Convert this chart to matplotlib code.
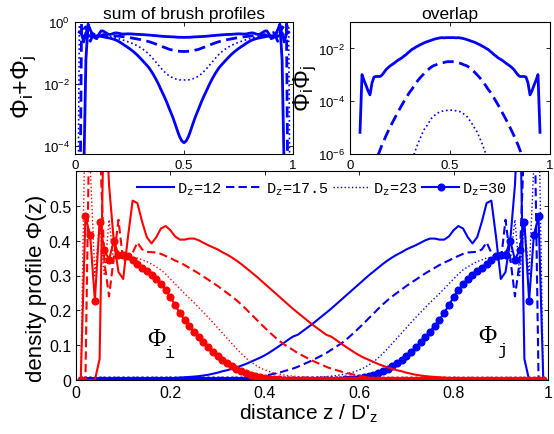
"""Brush density profiles: sum, overlap and single-brush profiles for four D_z."""

import matplotlib
matplotlib.use("Agg")
import matplotlib.pyplot as plt
import numpy as np
from matplotlib.lines import Line2D

plt.rcParams["font.family"] = ["Liberation Sans", "DejaVu Sans"]
plt.rcParams["mathtext.fontset"] = "custom"
plt.rcParams["mathtext.rm"] = "Liberation Sans"
plt.rcParams["mathtext.it"] = "Liberation Sans:italic"
plt.rcParams["mathtext.tt"] = "Liberation Mono"

# distance grid z / D'_z used for every profile
Z = np.linspace(0.01, 0.99, 99)

LABELS = ["12", "17.5", "23", "30"]

# density profile Phi_i(z) of brush i (red); brush j is its mirror image
PHI_I_12 = [
    0.0, 0.0, 0.0, 0.0, 0.06, 0.85, 0.56, 0.40, 0.31, 0.29,
    0.41, 0.515, 0.508, 0.455, 0.41, 0.392, 0.41, 0.435, 0.442, 0.43,
    0.412, 0.403, 0.403, 0.406, 0.406, 0.401, 0.394, 0.387, 0.381, 0.375,
    0.367, 0.36, 0.352, 0.343, 0.333, 0.322, 0.311, 0.30, 0.288, 0.276,
    0.264, 0.252, 0.24, 0.228, 0.216, 0.204, 0.193, 0.182, 0.171, 0.16,
    0.15, 0.14, 0.13, 0.125, 0.116, 0.106, 0.097, 0.088, 0.079, 0.071,
    0.064, 0.058, 0.052, 0.046, 0.041, 0.036, 0.032, 0.028, 0.025, 0.021,
    0.018, 0.015, 0.013, 0.011, 0.0098, 0.0088, 0.0078, 0.0068, 0.0059, 0.0050,
    0.0042, 0.0036, 0.0030, 0.0025, 0.0021, 0.0019, 0.0017, 0.0016, 0.0012, 0.0006,
    0.0008, 0.0010, 0.0011, 0.0012, 1.1e-4, 1e-5, 5e-6, 2e-6, 1e-6,
]
PHI_I_17 = [
    0.0, 0.0, 0.9, 0.62, 0.7, 0.34, 0.24, 0.35, 0.46, 0.34,
    0.35, 0.365, 0.395, 0.375, 0.368, 0.367, 0.366, 0.362, 0.356, 0.35,
    0.343, 0.337, 0.33, 0.322, 0.314, 0.306, 0.297, 0.288, 0.279, 0.27,
    0.26, 0.25, 0.24, 0.229, 0.217, 0.204, 0.19, 0.177, 0.163, 0.15,
    0.137, 0.125, 0.113, 0.103, 0.095, 0.086, 0.077, 0.07, 0.063, 0.056,
    0.05, 0.044, 0.038, 0.033, 0.029, 0.025, 0.021, 0.018, 0.015, 0.012,
    0.0095, 0.0075, 0.0058, 0.0045, 0.0035, 0.0027, 0.002, 0.0015, 0.0011, 8.5e-4,
    6.3e-4, 4.6e-4, 3.3e-4, 2.4e-4, 1.7e-4, 1.2e-4, 8.5e-5, 6e-5, 4.2e-5, 2.9e-5,
    2e-5, 1.35e-5, 9e-6, 6e-6, 3.8e-6, 2.4e-6, 1.5e-6, 9e-7, 5.5e-7, 3.3e-7,
    2e-7, 1.2e-7, 7e-8, 4e-8, 2e-8, 1e-8, 5e-9, 2e-9, 1e-9,
]
PHI_I_23 = [
    0.0, 0.8, 0.62, 0.3, 0.45, 0.3, 0.46, 0.34, 0.37, 0.355,
    0.35, 0.352, 0.35, 0.345, 0.34, 0.333, 0.325, 0.316, 0.304, 0.29,
    0.276, 0.262, 0.248, 0.235, 0.222, 0.208, 0.194, 0.18, 0.165, 0.15,
    0.135, 0.12, 0.105, 0.09, 0.076, 0.063, 0.052, 0.043, 0.035, 0.029,
    0.024, 0.02, 0.017, 0.0145, 0.0125, 0.011, 0.0097, 0.0085, 0.0076, 0.0068,
    0.006, 0.0052, 0.0045, 0.0038, 0.0032, 0.0025, 0.0019, 0.0014, 0.001, 6.2e-4,
    4e-4, 2.4e-4, 1.6e-4, 9e-5, 5e-5, 2.8e-5, 1.5e-5, 8e-6, 4e-6, 2e-6,
    1e-6, 5e-7, 2.5e-7, 1.2e-7, 6e-8, 3e-8, 2e-8, 1e-8, 1e-8, 1e-8,
    1e-8, 8e-9, 6e-9, 5e-9, 4e-9, 3e-9, 2e-9, 2e-9, 1e-9, 1e-9,
    1e-9, 1e-9, 1e-9, 1e-9, 1e-9, 1e-9, 1e-9, 1e-9, 1e-10,
]
PHI_I_30 = [
    0.0, 0.47, 0.415, 0.228, 0.454, 0.374, 0.345, 0.40, 0.36, 0.358,
    0.356, 0.345, 0.333, 0.322, 0.312, 0.302, 0.289, 0.275, 0.258, 0.238,
    0.215, 0.193, 0.173, 0.156, 0.139, 0.123, 0.108, 0.094, 0.08, 0.068,
    0.057, 0.048, 0.04, 0.033, 0.026, 0.02, 0.015, 0.011, 0.0078, 0.0055,
    0.0039, 0.0027, 0.0018, 0.0012, 8e-4, 5e-4, 3e-4, 1.8e-4, 1.1e-4, 6.5e-5,
    3.8e-5, 2.2e-5, 1.3e-5, 7.5e-6, 4.4e-6, 2.6e-6, 1.5e-6, 9e-7, 5e-7, 3e-7,
    2e-7, 1e-7, 1e-7, 1e-7, 1e-7, 1e-7, 1e-7, 1e-7, 1e-7, 1e-7,
    1e-7, 1e-7, 1e-7, 1e-7, 1e-7, 1e-7, 1e-7, 1e-7, 1e-7, 1e-7,
    1e-7, 1e-7, 1e-7, 1e-7, 1e-7, 1e-7, 1e-7, 1e-7, 1e-7, 1e-7,
    1e-7, 1e-7, 1e-7, 1e-7, 1e-7, 1e-7, 1e-7, 1e-7, 0.0,
]

PROFILES = [PHI_I_12, PHI_I_17, PHI_I_23, PHI_I_30]
STYLES = [
    dict(ls="-", lw=1.5),
    dict(ls=(0, (4, 2)), lw=1.5),
    dict(ls=":", lw=1.0),
    dict(ls="-", lw=1.5, marker="o", ms=4.8),
]
TOP_STYLES = [
    dict(ls="-", lw=2.0),
    dict(ls=(0, (4, 2)), lw=2.0),
    dict(ls=":", lw=1.2),
    dict(ls="-", lw=2.0),
]

BLUE = (0, 0, 1)
RED = (1, 0, 0)


def _positive(values):
    values = np.asarray(values, dtype=float)
    return np.where(values > 0, values, np.nan)


def _style_axes(ax, size):
    ax.tick_params(direction="in", top=True, right=True, labelsize=size,
                   length=3, width=0.6)
    ax.tick_params(which="minor", length=0)
    for spine in ax.spines.values():
        spine.set_linewidth(0.8)


fig = plt.figure(figsize=(5.54, 4.35), dpi=100)
W, H = 554.0, 435.0


def _axes(left, top, right, bottom):
    return fig.add_axes([left / W, 1 - bottom / H, (right - left) / W,
                         (bottom - top) / H])


ax_sum = _axes(75, 23, 293, 155)
ax_ovl = _axes(350, 23, 550, 155)
ax = _axes(76, 172, 548, 381)

for phi, style in zip(PROFILES, TOP_STYLES):
    phi_i = np.asarray(phi)
    phi_j = phi_i[::-1]
    ax_sum.plot(Z, _positive(phi_i + phi_j), color=BLUE, **style)
    ax_ovl.plot(Z, _positive(phi_i * phi_j), color=BLUE, **style)

ax_sum.set_yscale("log")
ax_sum.set_xlim(0, 1)
ax_sum.set_ylim(10 ** -4.25, 1)
ax_sum.set_xticks([0, 0.5, 1])
ax_sum.set_xticklabels(["0", "0.5", "1"])
ax_sum.set_yticks([1e-4, 1e-2, 1])
ax_sum.set_title("sum of brush profiles", fontsize=12.5, pad=3)
_style_axes(ax_sum, 9.5)

ax_ovl.set_yscale("log")
ax_ovl.set_xlim(0, 1)
ax_ovl.set_ylim(1e-6, 1e-1)
ax_ovl.set_xticks([0, 0.5, 1])
ax_ovl.set_xticklabels(["0", "0.5", "1"])
ax_ovl.set_yticks([1e-6, 1e-4, 1e-2])
ax_ovl.set_title("overlap", fontsize=12.5, pad=3)
_style_axes(ax_ovl, 9.5)

fig.text(24 / W, 1 - 87 / H, r"$\Phi_\mathrm{i}$+$\Phi_\mathrm{j}$",
         rotation=90, ha="center", va="center", fontsize=18)
fig.text(305 / W, 1 - 88 / H, r"$\Phi_\mathrm{i}\Phi_\mathrm{j}$",
         rotation=90, ha="center", va="center", fontsize=17)

# main panel: blue (brush j) first, red (brush i) on top
for phi, style in zip(PROFILES, STYLES):
    ax.plot(Z, np.asarray(phi)[::-1], color=BLUE, **style)
for phi, style in zip(PROFILES, STYLES):
    ax.plot(Z, phi, color=RED, **style)

ax.set_xlim(0, 1)
ax.set_ylim(0, 0.6)
ax.set_xticks([0, 0.2, 0.4, 0.6, 0.8, 1])
ax.set_xticklabels(["0", "0.2", "0.4", "0.6", "0.8", "1"])
ax.set_yticks([0, 0.1, 0.2, 0.3, 0.4, 0.5])
ax.set_yticklabels(["0", "0.1", "0.2", "0.3", "0.4", "0.5"])
_style_axes(ax, 11.5)

ax.text(0.171, 0.118, "\u03a6", family="Liberation Serif", fontsize=18,
        ha="center", va="center")
ax.text(0.199, 0.078, "i", family="Liberation Mono", fontsize=12,
        ha="center", va="center")
ax.text(0.872, 0.127, "\u03a6", family="Liberation Serif", fontsize=18,
        ha="center", va="center")
ax.text(0.902, 0.087, "j", family="Liberation Mono", fontsize=12,
        ha="center", va="center")

fig.text(37 / W, 1 - 288 / H, "density profile \u03a6(z)", rotation=90,
         ha="center", va="center", fontsize=16)
fig.text(309 / W, 1 - 414 / H, r"distance z / D'$_\mathrm{z}$",
         ha="center", va="center", fontsize=15)

handles = [Line2D([], [], color=BLUE, **style) for style in STYLES]
labels = [r"D$_{\mathtt{z}}$=" + lab for lab in LABELS]
ax.legend(handles, labels, loc="center left", bbox_to_anchor=(0.13, 0.915),
          ncol=4, frameon=False, handlelength=2.4, handletextpad=0.2,
          columnspacing=0.3, borderpad=0, borderaxespad=0,
          prop=dict(family="Liberation Mono", size=11))

fig.savefig("out.png", dpi=100)
